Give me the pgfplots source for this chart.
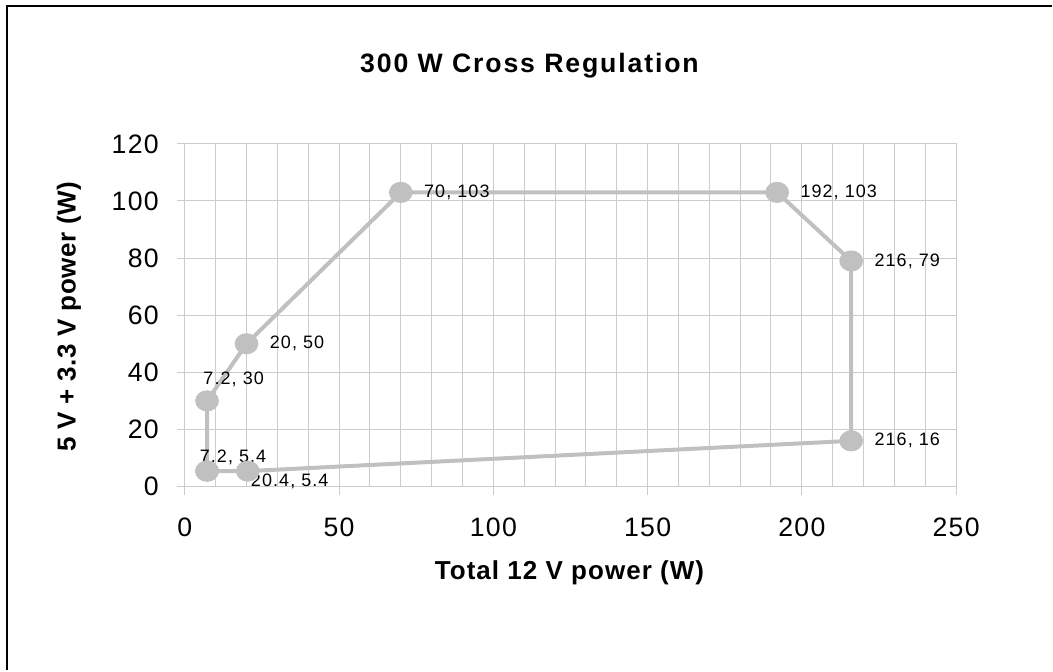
\documentclass[border=0pt]{standalone}
\usepackage{fontspec}
\setmainfont{Liberation Sans}
\newfontfamily\titlefont[LetterSpace=7]{Liberation Sans}
\newfontfamily\xlabfont[LetterSpace=4]{Liberation Sans}
\newfontfamily\ylabfont[LetterSpace=2]{Liberation Sans}
\newfontfamily\tickfont[LetterSpace=5]{Liberation Sans}
\newfontfamily\datafont[LetterSpace=6]{Liberation Sans}
\usepackage{pgfplots}
\pgfplotsset{compat=1.18}
\definecolor{ser}{HTML}{C0C0C0}
\definecolor{grd}{HTML}{CCCCCC}
\begin{document}
\begin{tikzpicture}
\begin{axis}[
  scale only axis,
  width=579pt, height=257.25pt,
  xmin=0, xmax=250, ymin=0, ymax=120,
  xtick={0,50,...,250},
  minor xtick={10,20,...,240},
  ytick={0,20,...,120},
  grid=both,
  major grid style={grd, line width=0.75pt},
  minor grid style={grd, line width=0.75pt},
  axis line style={grd, line width=0.75pt},
  tick align=outside,
  major tick length=6pt,
  minor tick length=0pt,
  tick style={grd, line width=0.75pt},
  xtick pos=bottom, ytick pos=left,
  /pgf/number format/assume math mode=true,
  ticklabel style={font=\fontsize{20}{22}\selectfont\tickfont},
  xticklabel shift=14pt,
  yticklabel shift=10pt,
  clip=false,
]
\coordinate (O) at (axis cs:0,0);
\addplot[ser, line width=3pt, mark=*, mark options={ser, xscale=1.15}, mark size=6.4pt]
  coordinates {(7.2,5.4) (7.2,30) (20,50) (70,103) (192,103) (216,79) (216,16) (20.4,5.4) (7.2,5.4)};
\begin{scope}[font=\fontsize{13.5}{15}\selectfont\datafont]
\node[anchor=west] at ([xshift=14pt]axis cs:70,103) {70, 103};
\node[anchor=west] at ([xshift=14pt]axis cs:192,103) {192, 103};
\node[anchor=west] at ([xshift=14pt]axis cs:216,79) {216, 79};
\node[anchor=west] at ([xshift=14pt]axis cs:216,16) {216, 16};
\node[anchor=west] at ([xshift=14pt]axis cs:20,50) {20, 50};
\node at ([shift={(20pt,16pt)}]axis cs:7.2,30) {7.2, 30};
\node at ([shift={(19.5pt,10.5pt)}]axis cs:7.2,5.4) {7.2, 5.4};
\node at ([shift={(31.5pt,-8pt)}]axis cs:20.4,5.4) {20.4, 5.4};
\end{scope}
\end{axis}
\path ([shift={(-138.75pt,-138pt)}]O) rectangle ([shift={(651pt,365.25pt)}]O);
\draw[line width=1.5pt] ([shift={(-133.5pt,-138pt)}]O) -- ([shift={(-133.5pt,361.1pt)}]O) -- ([shift={(651pt,361.1pt)}]O);
\node[font=\fontsize{20}{22}\selectfont\bfseries\titlefont] at ([shift={(258.75pt,315.75pt)}]O) {300 W Cross Regulation};
\node[font=\fontsize{19.5}{22}\selectfont\bfseries\xlabfont] at ([shift={(288.75pt,-64.5pt)}]O) {Total 12 V power (W)};
\node[rotate=90, font=\fontsize{19.5}{22}\selectfont\bfseries\ylabfont] at ([shift={(-87pt,127.5pt)}]O) {5 V + 3.3 V power (W)};
\end{tikzpicture}
\end{document}
